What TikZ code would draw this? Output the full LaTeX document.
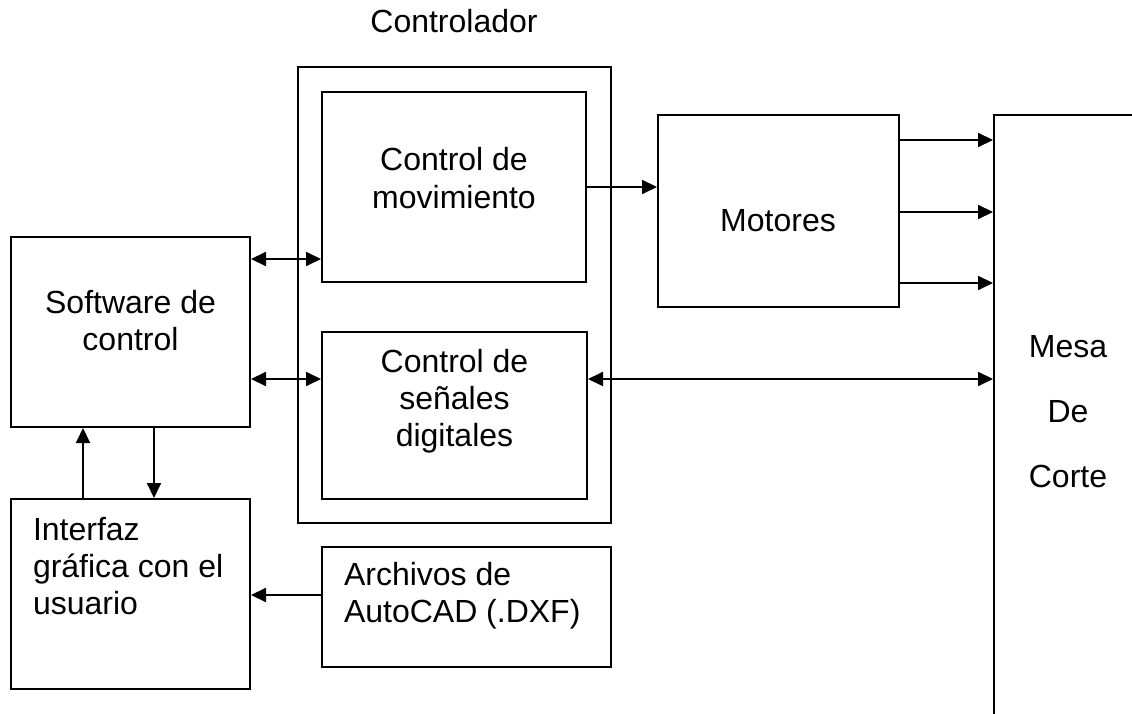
\documentclass[tikz,border=0pt]{standalone}
\usepackage{fontspec}
\setmainfont{Liberation Sans}
\usetikzlibrary{arrows.meta}
\begin{document}
\begin{tikzpicture}[x=1pt,y=-1pt,line width=2pt,
  box/.style={draw,line width=2pt,inner sep=0pt},
  txt/.style={font=\fontsize{32}{37}\selectfont,inner sep=0pt},
  arr/.style={-{Triangle[length=15pt,width=14pt]},line width=2pt},
  darr/.style={{Triangle[length=15pt,width=14pt]}-{Triangle[length=15pt,width=14pt]},line width=2pt}]
\useasboundingbox (0,0) rectangle (1132,714);
\clip (0,0) rectangle (1132,714);
% boxes
\node[box,minimum width=313pt,minimum height=456pt] (ctrl) at (454.5,295) {};
\node[box,minimum width=264pt,minimum height=190pt] (mov) at (454,187) {};
\node[box,minimum width=265pt,minimum height=167pt] (sen) at (454.5,415.5) {};
\node[box,minimum width=241pt,minimum height=192pt] (mot) at (778.5,211) {};
\node[box,minimum width=289pt,minimum height=120pt] (arc) at (466.5,607) {};
\node[box,minimum width=239pt,minimum height=190pt] (sw) at (130.5,332) {};
\node[box,minimum width=239pt,minimum height=190pt] (gui) at (130.5,594) {};
\node[box,minimum width=206pt,minimum height=685pt] (mesa) at (1097,457.5) {};
% texts (base anchor = baseline of last line)
\node[txt,anchor=base,align=center] (tctrl) at (454,33) {Controlador};
\node[txt,anchor=base,align=center] (tmov) at (454,208) {Control de\\movimiento};
\node[txt,anchor=base] (tmot) at (778,232) {Motores};
\node[txt,anchor=base,align=center] (tsw) at (130.5,350) {Software de\\control};
\node[txt,anchor=base,align=center] (tsen) at (454.5,446) {Control de\\señales\\digitales};
\node[txt,anchor=base west,align=left] (tgui) at (32,614) {Interfaz\\gráfica con el\\usuario};
\node[txt,anchor=base west,align=left] (tarc) at (343,622) {Archivos de\\AutoCAD (.DXF)};
\node[txt,anchor=base,align=center,font=\fontsize{32}{65}\selectfont] (tmesa) at (1068,487) {Mesa\\De\\Corte};
% level coordinates
\coordinate (y1) at (0,259);
\coordinate (y2) at (0,379);
\coordinate (m1) at (0,140);
\coordinate (m2) at (0,212);
\coordinate (m3) at (0,283);
\coordinate (ya) at (0,595);
\coordinate (xu) at (83,0);
\coordinate (xd) at (154,0);
% connectors
\draw[darr] (sw.east |- y1) -- (mov.west |- y1);
\draw[darr] (sw.east |- y2) -- (sen.west |- y2);
\draw[darr] (sen.east |- y2) -- (mesa.west |- y2);
\draw[arr] (mov.east) -- (mot.west |- mov.east);
\draw[arr] (mot.east |- m1) -- (mesa.west |- m1);
\draw[arr] (mot.east |- m2) -- (mesa.west |- m2);
\draw[arr] (mot.east |- m3) -- (mesa.west |- m3);
\draw[arr] (gui.north -| xu) -- (sw.south -| xu);
\draw[arr] (sw.south -| xd) -- (gui.north -| xd);
\draw[arr] (arc.west |- ya) -- (gui.east |- ya);
\end{tikzpicture}
\end{document}
